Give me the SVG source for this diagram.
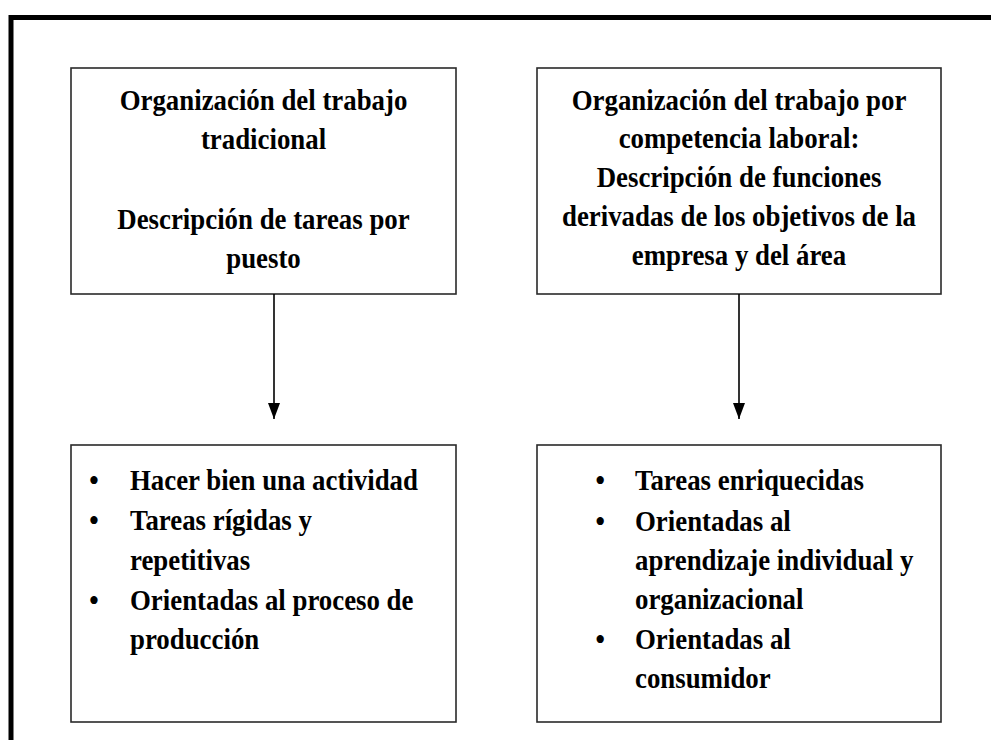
<svg xmlns="http://www.w3.org/2000/svg" width="991" height="740" viewBox="0 0 991 740">
<defs>
<style>
.box{fill:#fff;stroke:#2a2a2a;stroke-width:1.6}
.t{font-family:"Liberation Serif","Times New Roman",serif;font-weight:bold;font-size:30.5px;fill:#000}
.c{text-anchor:middle}
.conn{stroke:#000;stroke-width:1.6;fill:none}
</style>
<marker id="arr" markerUnits="userSpaceOnUse" markerWidth="16" markerHeight="12" refX="16" refY="6" orient="auto" viewBox="0 0 16 12">
<path d="M0 0 L16 6 L0 12 Z" fill="#000"/>
</marker>
</defs>
<rect width="991" height="740" fill="#fff"/>
<path d="M11 745 V17.5 H996" fill="none" stroke="#000" stroke-width="5"/>

<g id="n1">
<rect class="box" x="71" y="68" width="385" height="226"/>
<g transform="translate(263.5,0) scale(0.88,1)">
<text class="t c" x="0" y="110">Organización del trabajo</text>
<text class="t c" x="0" y="149.5">tradicional</text>
<text class="t c" x="0" y="229">Descripción de tareas por</text>
<text class="t c" x="0" y="268">puesto</text>
</g>
</g>

<g id="n2">
<rect class="box" x="537" y="68" width="404" height="226"/>
<g transform="translate(739,0) scale(0.88,1)">
<text class="t c" x="0" y="110">Organización del trabajo por</text>
<text class="t c" x="0" y="148.5">competencia laboral:</text>
<text class="t c" x="0" y="187">Descripción de funciones</text>
<text class="t c" x="0" y="226">derivadas de los objetivos de la</text>
<text class="t c" x="0" y="265">empresa y del área</text>
</g>
</g>

<g id="n3">
<rect class="box" x="71" y="445" width="385" height="277"/>
<g transform="translate(130,0) scale(0.88,1)">
<text class="t c" x="-41" y="490">•</text>
<text class="t" x="0" y="490">Hacer bien una actividad</text>
<text class="t c" x="-41" y="530">•</text>
<text class="t" x="0" y="530">Tareas rígidas y</text>
<text class="t" x="0" y="570">repetitivas</text>
<text class="t c" x="-41" y="610">•</text>
<text class="t" x="0" y="610">Orientadas al proceso de</text>
<text class="t" x="0" y="649">producción</text>
</g>
</g>

<g id="n4">
<rect class="box" x="537" y="445" width="404" height="277"/>
<g transform="translate(635,0) scale(0.88,1)">
<text class="t c" x="-39.5" y="490">•</text>
<text class="t" x="0" y="490">Tareas enriquecidas</text>
<text class="t c" x="-39.5" y="531">•</text>
<text class="t" x="0" y="531">Orientadas al</text>
<text class="t" x="0" y="570.5">aprendizaje individual y</text>
<text class="t" x="0" y="609">organizacional</text>
<text class="t c" x="-39.5" y="649">•</text>
<text class="t" x="0" y="649">Orientadas al</text>
<text class="t" x="0" y="688">consumidor</text>
</g>
</g>

<g id="connectors">
<line class="conn" x1="274" y1="294" x2="274" y2="419" marker-end="url(#arr)"/>
<line class="conn" x1="739" y1="294" x2="739" y2="419" marker-end="url(#arr)"/>
</g>
</svg>
